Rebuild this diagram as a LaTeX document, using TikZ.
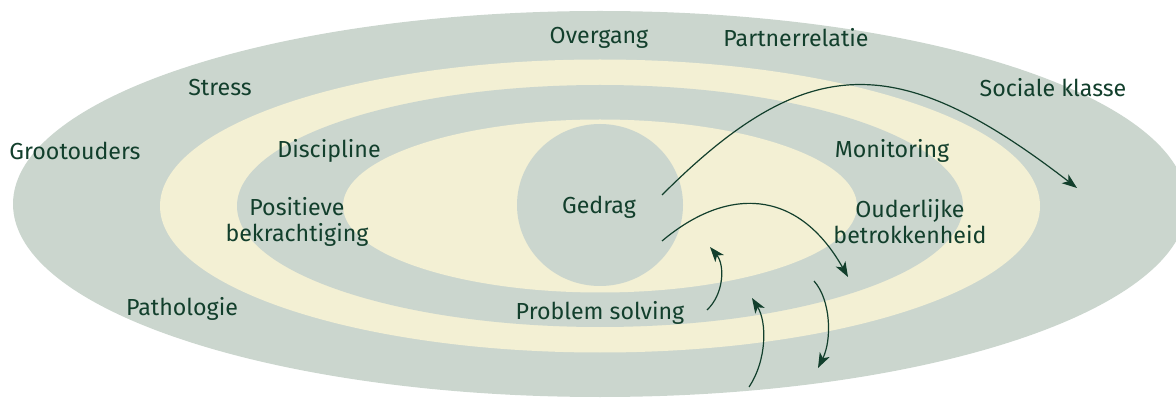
\documentclass[tikz,border=0pt]{standalone}
\usepackage{fontspec}
\setmainfont{Fira Sans}
\usetikzlibrary{arrows.meta}
\definecolor{ringgray}{HTML}{CBD6CE}
\definecolor{ringcream}{HTML}{F3F0D4}
\definecolor{inkgreen}{HTML}{123F2C}
\tikzset{
  lbl/.style={text=inkgreen, font=\fontsize{23.2}{26}\selectfont, inner sep=0pt, align=center},
  flow/.style={draw=inkgreen, line width=1.2pt, -{Stealth[length=15pt,width=11pt,inset=4pt]}},
}
\begin{document}
\begin{tikzpicture}[x=1pt,y=-1pt]
  \useasboundingbox (0,0) rectangle (1176,398);
  \clip (0,0) rectangle (1176,398);
  % concentric rings
  \fill[ringgray]  (600,204) ellipse[x radius=587, y radius=193];
  \fill[ringcream] (600,206) ellipse[x radius=440, y radius=146.5];
  \fill[ringgray]  (600,206) ellipse[x radius=363, y radius=121];
  \fill[ringcream] (600,206) ellipse[x radius=257, y radius=86.5];
  \fill[ringgray]  (600,205) ellipse[x radius=83, y radius=81];
  % labels
  \node[lbl] (overgang)  at (599,38)  {Overgang};
  \node[lbl] (partner)   at (796,38)  {Partnerrelatie};
  \node[lbl] (stress)    at (220,88)  {Stress};
  \node[lbl] (sociaal)   at (1053,88) {Sociale klasse};
  \node[lbl] (groot)     at (75,151)  {Grootouders};
  \node[lbl] (disc)      at (329,151) {Discipline};
  \node[lbl] (monit)     at (892,151) {Monitoring};
  \node[lbl] (posit)     at (297,222) {Positieve\\bekrachtiging};
  \node[lbl] (ouder)     at (910,222) {Ouderlijke\\betrokkenheid};
  \node[lbl] (gedrag)    at (599,207) {Gedrag};
  \node[lbl] (probl)     at (600,313) {Problem solving};
  \node[lbl] (patho)     at (182,309) {Pathologie};
  % arrow end points
  \coordinate (a1s) at (662,195);  \coordinate (a1e) at (1077,188);
  \coordinate (a2s) at (662,241);  \coordinate (a2e) at (848,277);
  \coordinate (a3s) at (707,310);  \coordinate (a3e) at (710,247);
  \coordinate (a4s) at (749,387);  \coordinate (a4e) at (752,298);
  \coordinate (a5s) at (814,281);  \coordinate (a5e) at (818,368);
  % influence arrows
  \draw[flow] (a1s) .. controls (807,50) and (898,50) .. (a1e);
  \draw[flow] (a2s) .. controls (726,187) and (797,187) .. (a2e);
  \draw[flow] (a3s) .. controls (724,294) and (725,265) .. (a3e);
  \draw[flow] (a4s) .. controls (767,360) and (767,322) .. (a4e);
  \draw[flow] (a5s) .. controls (831,300) and (832,340) .. (a5e);
\end{tikzpicture}
\end{document}
